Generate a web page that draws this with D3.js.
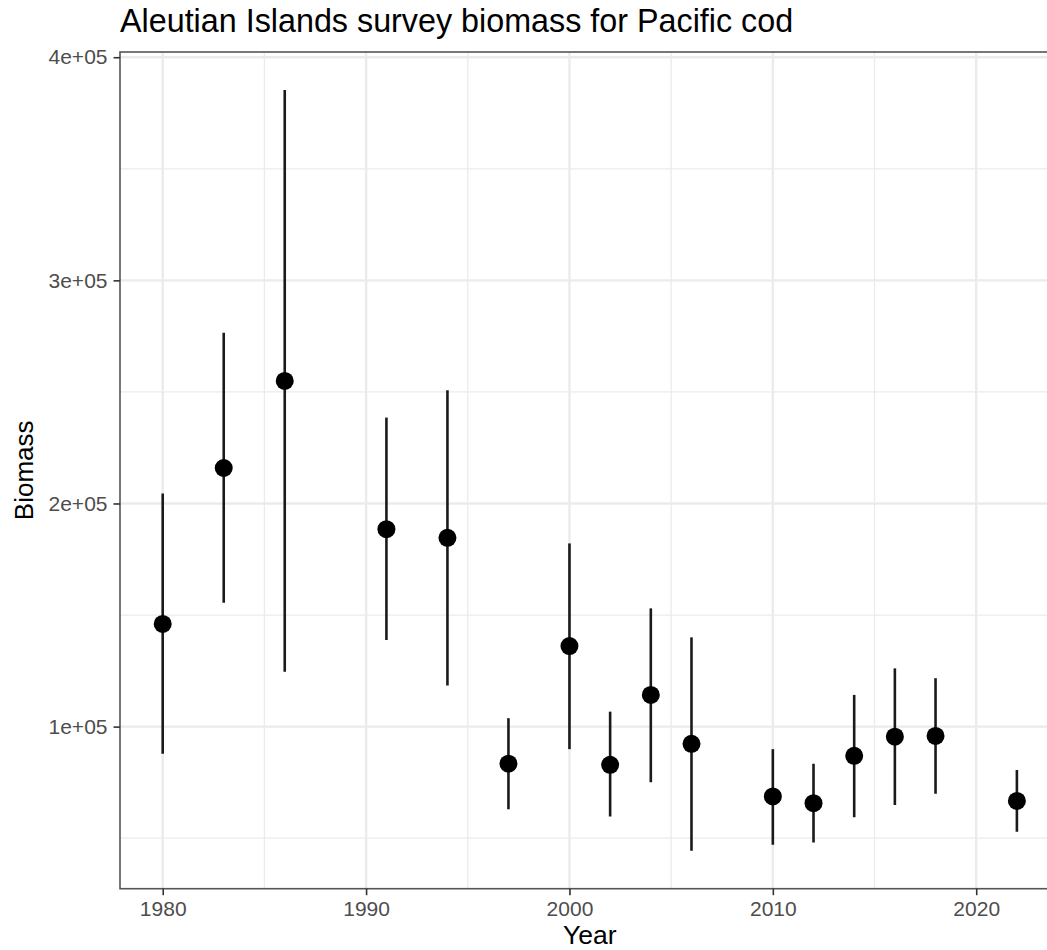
<!DOCTYPE html>
<html>
<head>
<meta charset="utf-8">
<script src="https://cdn.jsdelivr.net/npm/d3@7"></script>
<style>
  html, body { margin: 0; padding: 0; background: #fff; overflow: hidden; }
  svg { display: block; font-family: "Liberation Sans", Arial, Helvetica, sans-serif; }
</style>
</head>
<body>
<svg id="chart" width="1047" height="950"></svg>
<script>
// Survey years and biomass estimates with lower/upper interval bounds
const years = [1980, 1983, 1986, 1991, 1994, 1997, 2000, 2002, 2004, 2006, 2010, 2012, 2014, 2016, 2018, 2022];
const biomass = [146000, 215900, 254900, 188500, 184600, 83400, 136100, 82900, 114200, 92300, 68700, 65700, 86900, 95500, 95800, 66700];
const lower = [87800, 155500, 124600, 138800, 118400, 63000, 89900, 59700, 75100, 44400, 47000, 48100, 59400, 64900, 69900, 52900];
const upper = [204500, 276500, 385300, 238500, 250700, 103800, 182100, 106700, 153000, 140000, 89900, 83300, 114200, 126100, 121700, 80600];

const xTicks = [1980, 1990, 2000, 2010, 2020];
const xTickLabels = ["1980", "1990", "2000", "2010", "2020"];
const xMinor = [1985, 1995, 2005, 2015, 2025];
const yTicks = [100000, 200000, 300000, 400000];
const yTickLabels = ["1e+05", "2e+05", "3e+05", "4e+05"];
const yMinor = [50000, 150000, 250000, 350000];

const titleText = "Aleutian Islands survey biomass for Pacific cod";
const xTitle = "Year";
const yTitle = "Biomass";

const data = years.map((y, i) => ({ year: y, value: biomass[i], lo: lower[i], hi: upper[i] }));

// Panel geometry (the panel runs past the right edge of the canvas)
const panel = { left: 120, top: 52, right: 1059.6, bottom: 888.7 };

// Continuous scales with 5% expansion on each side
function expand(ext) {
  const pad = (ext[1] - ext[0]) * 0.05;
  return [ext[0] - pad, ext[1] + pad];
}
const x = d3.scaleLinear()
  .domain(expand(d3.extent(years)))
  .range([panel.left, panel.right]);
const y = d3.scaleLinear()
  .domain(expand([d3.min(lower), d3.max(upper)]))
  .range([panel.bottom, panel.top]);

const svg = d3.select("#chart");
const W = panel.right - panel.left, H = panel.bottom - panel.top;

svg.append("defs").append("clipPath").attr("id", "panel-clip")
  .append("rect").attr("x", panel.left).attr("y", panel.top).attr("width", W).attr("height", H);

const grid = svg.append("g").attr("clip-path", "url(#panel-clip)");

// Minor grid
grid.selectAll(".xminor").data(xMinor).join("line")
  .attr("x1", d => x(d)).attr("x2", d => x(d))
  .attr("y1", panel.top).attr("y2", panel.bottom)
  .attr("stroke", "#ebebeb").attr("stroke-width", 1.3);
grid.selectAll(".yminor").data(yMinor).join("line")
  .attr("y1", d => y(d)).attr("y2", d => y(d))
  .attr("x1", panel.left).attr("x2", panel.right)
  .attr("stroke", "#ebebeb").attr("stroke-width", 1.3);

// Major grid
grid.selectAll(".xmajor").data(xTicks).join("line")
  .attr("x1", d => x(d)).attr("x2", d => x(d))
  .attr("y1", panel.top).attr("y2", panel.bottom)
  .attr("stroke", "#ebebeb").attr("stroke-width", 2.4);
grid.selectAll(".ymajor").data(yTicks).join("line")
  .attr("y1", d => y(d)).attr("y2", d => y(d))
  .attr("x1", panel.left).attr("x2", panel.right)
  .attr("stroke", "#ebebeb").attr("stroke-width", 2.4);

// Interval lines
const marks = svg.append("g").attr("clip-path", "url(#panel-clip)");
marks.selectAll(".range").data(data).join("line")
  .attr("x1", d => x(d.year)).attr("x2", d => x(d.year))
  .attr("y1", d => y(d.lo)).attr("y2", d => y(d.hi))
  .attr("stroke", "#1a1a1a").attr("stroke-width", 2.6);

// Point estimates
marks.selectAll(".pt").data(data).join("circle")
  .attr("cx", d => x(d.year)).attr("cy", d => y(d.value))
  .attr("r", 9).attr("fill", "#000");

// Panel border
svg.append("rect")
  .attr("x", panel.left).attr("y", panel.top).attr("width", W).attr("height", H)
  .attr("fill", "none").attr("stroke", "#555").attr("stroke-width", 1.6);

// Axes
const xAxis = d3.axisBottom(x).tickValues(xTicks)
  .tickFormat((d, i) => xTickLabels[i]).tickSize(6.5).tickPadding(6);
const gx = svg.append("g").attr("transform", `translate(0,${panel.bottom})`).call(xAxis);
gx.select(".domain").remove();
gx.selectAll(".tick line").attr("stroke", "#333").attr("stroke-width", 1.6);
gx.selectAll(".tick text").attr("fill", "#4d4d4d").attr("font-size", 21)
  .attr("font-family", "'Liberation Sans', Arial, sans-serif");

const yAxis = d3.axisLeft(y).tickValues(yTicks)
  .tickFormat((d, i) => yTickLabels[i]).tickSize(6.5).tickPadding(6);
const gy = svg.append("g").attr("transform", `translate(${panel.left},0)`).call(yAxis);
gy.select(".domain").remove();
gy.selectAll(".tick line").attr("stroke", "#333").attr("stroke-width", 1.6);
gy.selectAll(".tick text").attr("fill", "#4d4d4d").attr("font-size", 21)
  .attr("font-family", "'Liberation Sans', Arial, sans-serif");

// Axis titles
svg.append("text")
  .attr("x", (panel.left + panel.right) / 2).attr("y", 944)
  .attr("text-anchor", "middle").attr("font-size", 26.5).attr("fill", "#000")
  .text(xTitle);
svg.append("text")
  .attr("transform", `translate(33,${(panel.top + panel.bottom) / 2}) rotate(-90)`)
  .attr("text-anchor", "middle").attr("font-size", 26).attr("fill", "#000")
  .text(yTitle);

// Plot title
svg.append("text")
  .attr("x", panel.left).attr("y", 32)
  .attr("font-size", 32.3).attr("fill", "#000")
  .text(titleText);
</script>
</body>
</html>
